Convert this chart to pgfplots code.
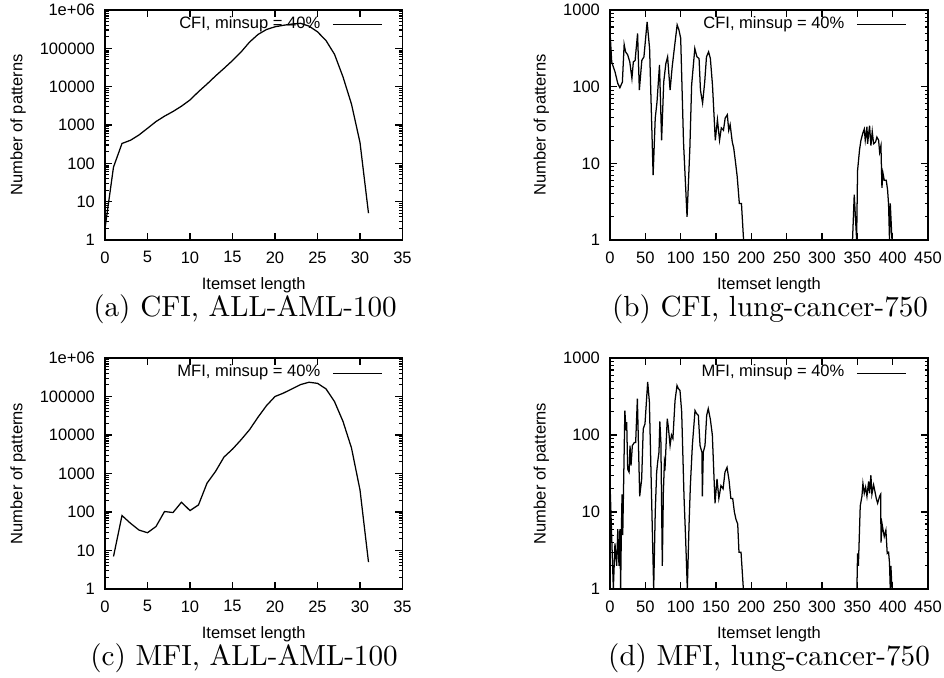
\documentclass[border=0pt]{standalone}
\usepackage{fontspec}
\newfontfamily\arial{Liberation Sans}
\usepackage{pgfplots}
\pgfplotsset{compat=1.18}
\newcommand{\sfs}{\arial\fontsize{5.9}{7}\selectfont}
\pgfplotsset{
  every axis/.append style={
    scale only axis,
    tick align=inside,
    major tick length=2.5pt,
    minor tick length=1.25pt,
    tick style={line width=0.4pt, black},
    every tick label/.append style={font=\sfs},
    yticklabel style={inner sep=0pt, anchor=east, xshift=-3.4pt},
    xticklabel style={inner sep=0pt, anchor=north, yshift=-3.9pt},
    label style={font=\sfs},
    legend plot pos=right,
    legend style={draw=none, fill=none, inner sep=0pt, outer sep=0pt,
      anchor=east, at={(axis description cs:0.932,0.935)},
      nodes={inner sep=0pt, font=\sfs}, column sep=4.3pt},
  },
}
\begin{document}
\begin{tikzpicture}
\useasboundingbox (0,0) rectangle (337.14pt,-241.79pt);

% (a)
\begin{axis}[ymode=log, unbounded coords=jump,
    width=106.25pt, height=82.14pt, at={(37.50pt,-85.71pt)}, anchor=south west,
    xmin=0, xmax=35, xtick={0,5,10,15,20,25,30,35},
    xticklabels={0,5,10,15,20,25,30,35},
    ymin=1, ymax=1000000,
    ytick={1,10,100,1000,10000,100000,1000000},
    yticklabels={1,10,100,1000,10000,100000,1e+06},
    xlabel={Itemset length}, ylabel={Number of patterns},
    xlabel style={at={(axis description cs:0.5,-0.195)}, anchor=center, inner sep=0pt},
    ylabel style={at={(axis description cs:-0.292,0.5)}, anchor=center},
    legend image code/.code={\draw[#1, line width=0.35pt] (0pt,0pt) -- (17.5pt,0pt);}]
\addplot[black, line width=0.45pt] coordinates {
(0,2) (1,80) (2,330) (3,400) (4,550) (5,820) (6,1230) (7,1700) (8,2250) (9,3100)
(10,4500) (11,7400) (12,11700) (13,19000) (14,30000) (15,48000) (16,80000)
(17,145000) (18,230000) (19,310000) (20,365000) (21,400000) (22,430000)
(23,450000) (24,380000) (25,270000) (26,160000) (27,70000) (28,18000)
(29,3500) (30,350) (31,5)};
\addlegendentry{CFI, minsup = 40\%}
\end{axis}

% (b)
\begin{axis}[ymode=log, unbounded coords=jump,
    width=113.57pt, height=82.14pt, at={(217.86pt,-85.71pt)}, anchor=south west,
    xmin=0, xmax=450, xtick={0,50,100,150,200,250,300,350,400,450},
    xticklabels={0,50,100,150,200,250,300,350,400,450},
    ymin=1, ymax=1000,
    ytick={1,10,100,1000},
    yticklabels={1,10,100,1000},
    xlabel={Itemset length}, ylabel={Number of patterns},
    xlabel style={at={(axis description cs:0.5,-0.195)}, anchor=center, inner sep=0pt},
    ylabel style={at={(axis description cs:-0.216,0.5)}, anchor=center},
    legend image code/.code={\draw[#1, line width=0.35pt] (0pt,0pt) -- (17.5pt,0pt);}]
\addplot[black, line width=0.45pt] coordinates {
(0,520) (2.4,210) (7,157) (11,110) (14,97) (17.5,115) (20,355) (22,285) (25,260)
(28,210) (31,128) (33,210) (35.5,220) (39,495) (41.5,90) (45,220) (48,245)
(52.5,700) (56,315) (61,7) (64,39) (66.5,63) (70,192) (73,20) (76,115) (79,200)
(81.5,245) (85,90) (88,182) (91,315) (95,640) (97.5,550) (100,430) (104,19)
(109,2) (113,16) (115.5,105) (120,315) (123,245) (126,233) (128,90) (131,61)
(134,115) (136.5,245) (139.5,285) (142,233) (145,105) (149,20) (152,37) (155,20)
(157.5,29) (160.5,27) (163,39) (166,43) (168,27) (170,32) (173,19) (175,16)
(177.5,10.5) (180,6.7) (183,3) (186,3) (189,1)
(260,nan)
(343.2,1) (345.6,3.9) (349,1) (350.3,8) (353.1,15) (355.1,20) (357.9,25)
(359.8,28) (361.2,20) (363.6,30) (364.5,18) (367.3,31) (369.2,17) (371.1,26)
(373,18) (375.8,19) (377.7,22) (380.1,20) (381.5,14) (383.4,17) (384.8,4.8)
(386.2,7.5) (388.1,6) (390.9,6) (392.8,4.5) (394.2,2.9) (395.5,1) (396.6,3)
(397.5,2) (399,1)};
\addlegendentry{CFI, minsup = 40\%}
\end{axis}

% (c)
\begin{axis}[ymode=log, unbounded coords=jump,
    width=106.25pt, height=82.5pt, at={(37.50pt,-210.36pt)}, anchor=south west,
    xmin=0, xmax=35, xtick={0,5,10,15,20,25,30,35},
    xticklabels={0,5,10,15,20,25,30,35},
    ymin=1, ymax=1000000,
    ytick={1,10,100,1000,10000,100000,1000000},
    yticklabels={1,10,100,1000,10000,100000,1e+06},
    xlabel={Itemset length}, ylabel={Number of patterns},
    xlabel style={at={(axis description cs:0.5,-0.194)}, anchor=center, inner sep=0pt},
    ylabel style={at={(axis description cs:-0.292,0.5)}, anchor=center},
    legend image code/.code={\draw[#1, line width=0.35pt] (0pt,0pt) -- (17.5pt,0pt);}]
\addplot[black, line width=0.45pt] coordinates {
(1,7) (2,81) (3,51) (4,34) (5,29) (6,42) (7,103) (8,97) (9,180) (10,109)
(11,153) (12,560) (13,1130) (14,2680) (15,4300) (16,7500) (17,13700)
(18,29000) (19,58000) (20,100000) (21,123000) (22,158000) (23,204000)
(24,235000) (25,220000) (26,158000) (27,74000) (28,22600) (29,4600)
(30,375) (31,5)};
\addlegendentry{MFI, minsup = 40\%}
\end{axis}

% (d)
\begin{axis}[ymode=log, unbounded coords=jump,
    width=113.57pt, height=82.5pt, at={(217.86pt,-210.36pt)}, anchor=south west,
    xmin=0, xmax=450, xtick={0,50,100,150,200,250,300,350,400,450},
    xticklabels={0,50,100,150,200,250,300,350,400,450},
    ymin=1, ymax=1000,
    ytick={1,10,100,1000},
    yticklabels={1,10,100,1000},
    xlabel={Itemset length}, ylabel={Number of patterns},
    xlabel style={at={(axis description cs:0.5,-0.194)}, anchor=center, inner sep=0pt},
    ylabel style={at={(axis description cs:-0.216,0.5)}, anchor=center},
    legend image code/.code={\draw[#1, line width=0.35pt] (0pt,0pt) -- (17.5pt,0pt);}]
\addplot[black, line width=0.45pt] coordinates {
(0,1) (0.5,17) (4.7,1) (7,3.9) (9.4,2) (11,6) (12.7,2) (14,6) (15,1) (16,5)
(17,17) (18,5) (19,17) (21,208) (22.6,115) (23.6,147) (25,36) (27,33)
(28.3,73) (29.7,40) (31.6,73) (34.4,80) (36.3,80) (38.7,296) (42,16)
(44.8,27) (47,120) (49.5,140) (53.3,490) (55.7,270) (61.8,1) (64,10)
(66,33) (67.5,45) (69.3,60) (70.5,150) (72,80) (74,2) (75.5,18) (77,45)
(78,40) (81,163) (82.5,128) (85,73) (87,100) (89,90) (92,280) (94.8,440)
(96.7,400) (99,380) (101.4,200) (104.7,16) (107,4.5) (109.4,1) (111.8,6.7)
(113.7,22) (116.5,73) (120.3,208) (122.5,190) (125,180) (127.4,73) (130,60)
(130.7,16) (132,60) (134.4,73) (136.8,180) (139,220) (142,160) (144.8,100)
(148.6,13) (151.4,27) (154,15) (157,22) (160,20) (162.7,33) (165.6,38)
(168.4,26) (171,15) (173.6,15) (176,10) (178.3,8) (180.7,7) (182.5,3)
(185.4,3) (188.7,1)
(260,nan)
(349.4,1) (350.3,2.9) (351.5,2) (354.1,12) (356.5,16) (357.9,23.5)
(359.8,17.5) (361.7,21) (363.6,16) (366,25) (367.3,17.5) (369.2,30)
(370.6,17) (373,22.5) (374.9,18.5) (376.8,15) (378.7,13) (381.5,16)
(383,17) (383.5,4) (385,7) (386.2,6) (388.1,4.8) (390.4,5.8) (392.3,2.9)
(394.2,3) (395.5,2.2) (396.6,1) (397.5,2) (399,1)};
\addlegendentry{MFI, minsup = 40\%}
\end{axis}

\node[anchor=base, font=\fontsize{10.4}{12}\selectfont] at (87.5pt,-113.0pt) {(a) CFI, ALL-AML-100};
\node[anchor=base, font=\fontsize{10.4}{12}\selectfont] at (275pt,-113.0pt) {(b) CFI, lung-cancer-750};
\node[anchor=base, font=\fontsize{10.4}{12}\selectfont] at (87.14pt,-237.7pt) {(c) MFI, ALL-AML-100};
\node[anchor=base, font=\fontsize{10.4}{12}\selectfont] at (274.64pt,-237.7pt) {(d) MFI, lung-cancer-750};
\end{tikzpicture}
\end{document}
